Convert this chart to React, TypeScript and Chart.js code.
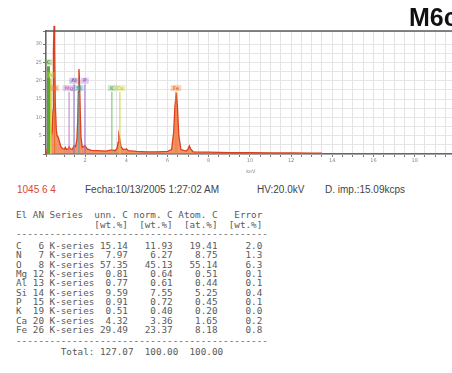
import React, { useEffect, useRef } from 'react';
import { Chart, registerables } from 'chart.js';

Chart.register(...registerables);

// Spectrum (energy in keV, intensity in cps/eV)
const spectrumKeV = [
  0.10, 0.15, 0.20, 0.24, 0.28, 0.32, 0.36, 0.40, 0.44, 0.46, 0.49, 0.52, 0.55, 0.60, 0.64, 0.70,
  0.76, 0.82, 0.90, 1.00, 1.04, 1.10, 1.18, 1.22, 1.28, 1.38, 1.46, 1.54, 1.60, 1.64, 1.67, 1.70,
  1.73, 1.76, 1.80, 1.86, 1.99, 2.10, 2.30, 2.60, 3.00, 3.30, 3.45, 3.55, 3.60, 3.64, 3.68, 3.74,
  3.85, 4.01, 4.10, 4.50, 5.00, 5.50, 6.00, 6.20, 6.30, 6.36, 6.43, 6.48, 6.55, 6.65, 6.90, 7.00,
  7.06, 7.12, 7.25, 8.00, 9.00, 10.00, 11.00, 12.00, 13.00, 13.50,
];
const spectrumCounts = [
  0.0, 0.6, 3.0, 9.0, 14.0, 8.0, 5.0, 6.0, 12.0, 28.0, 35.0, 30.0, 14.0, 6.5, 5.0, 4.5,
  3.2, 2.0, 1.5, 1.3, 1.8, 1.2, 1.4, 2.0, 1.4, 1.3, 2.2, 2.0, 4.0, 9.0, 17.0, 23.2,
  20.0, 12.0, 4.5, 1.8, 2.3, 1.4, 1.0, 0.9, 0.8, 1.1, 0.9, 1.5, 3.2, 5.2, 4.2, 2.0,
  1.2, 1.4, 0.9, 0.7, 0.6, 0.6, 0.7, 1.2, 6.0, 13.0, 16.7, 13.0, 5.0, 1.2, 0.8, 1.4,
  2.2, 1.4, 0.6, 0.5, 0.4, 0.35, 0.3, 0.3, 0.25, 0.25,
];

// Element identification markers
const markerSymbols = ['C', 'N', 'O', 'Mg', 'Al', 'Si', 'P', 'K', 'Ca', 'Fe'];
const markerKeV = [0.22, 0.33, 0.52, 1.22, 1.46, 1.70, 1.99, 3.30, 3.69, 6.41];
const markerLevel = [25.0, 21.6, 18.0, 18.0, 20.0, 18.0, 20.0, 18.0, 18.0, 18.0];
const markerColors = ['#58a830', '#c4d448', '#e86a30', '#c07cc0', '#8c6cc4', '#40a8b8', '#a46cd0', '#6cbc6c', '#c8d048', '#f07c3c'];
const markerWidths = [3, 2, 1, 1, 1, 1, 1, 1, 1, 1];

// Info line
const sampleId = '1045 6 4';
const infoTexts = ['Fecha:10/13/2005 1:27:02 AM', 'HV:20.0kV', 'D. imp.:15.09kcps'];

// Quantification table
const elements = ['C', 'N', 'O', 'Mg', 'Al', 'Si', 'P', 'K', 'Ca', 'Fe'];
const atomicNumbers = [6, 7, 8, 12, 13, 14, 15, 19, 20, 26];
const seriesNames = ['K-series', 'K-series', 'K-series', 'K-series', 'K-series', 'K-series', 'K-series', 'K-series', 'K-series', 'K-series'];
const unnC = ['15.14', '7.97', '57.35', '0.81', '0.77', '9.59', '0.91', '0.51', '4.32', '29.49'];
const normC = ['11.93', '6.27', '45.13', '0.64', '0.61', '7.55', '0.72', '0.40', '3.36', '23.37'];
const atomC = ['19.41', '8.75', '55.14', '0.51', '0.44', '5.25', '0.45', '0.20', '1.65', '8.18'];
const errorC = ['2.0', '1.3', '6.3', '0.1', '0.1', '0.4', '0.1', '0.0', '0.2', '0.8'];
const totals = ['127.07', '100.00', '100.00'];

const headerLine = 'El AN Series  unn. C norm. C Atom. C   Error';
const unitsLine = '              [wt.%]  [wt.%]  [at.%]  [wt.%]';
const dashLine = '-'.repeat(45);

function rowLine(i: number) {
  return (
    elements[i].padEnd(2) + ' ' + String(atomicNumbers[i]).padStart(2) + ' ' + seriesNames[i] + ' ' +
    unnC[i].padStart(5) + normC[i].padStart(8) + atomC[i].padStart(8) + errorC[i].padStart(8)
  );
}
const totalLine = '        Total: ' + totals[0].padStart(6) + totals[1].padStart(8) + totals[2].padStart(8);

const overlayPlugin = {
  id: 'overlay',
  afterDatasetsDraw(chart: any) {
    const { ctx, chartArea, scales } = chart;
    ctx.save();
    ctx.strokeStyle = '#5a5a5a';
    ctx.lineWidth = 1.5;
    ctx.beginPath();
    ctx.moveTo(chartArea.left, chartArea.top);
    ctx.lineTo(chartArea.right, chartArea.top);
    ctx.stroke();
    ctx.font = 'bold 5px "DejaVu Sans"';
    ctx.textAlign = 'center';
    ctx.textBaseline = 'middle';
    markerSymbols.forEach((s, i) => {
      const x = scales.x.getPixelForValue(markerKeV[i]);
      const y = scales.y.getPixelForValue(markerLevel[i]);
      const w = ctx.measureText(s).width + 4;
      ctx.globalAlpha = 0.35;
      ctx.fillStyle = markerColors[i];
      ctx.fillRect(x - w / 2, y - 3, w, 6);
      ctx.globalAlpha = 1;
      ctx.fillText(s, x, y + 0.3);
    });
    ctx.restore();
  },
};

export default function App() {
  const ref = useRef<HTMLCanvasElement | null>(null);

  useEffect(() => {
    const canvas = ref.current;
    if (!canvas) return;
    const markerSets = markerSymbols.map((s, i) => ({
      label: s,
      data: [
        { x: markerKeV[i], y: 0 },
        { x: markerKeV[i], y: markerLevel[i] - 1 },
      ],
      showLine: true,
      borderColor: markerColors[i],
      borderWidth: markerWidths[i],
      pointRadius: 0,
      fill: false,
    }));
    const chart = new Chart(canvas, {
      type: 'scatter',
      data: {
        datasets: [
          ...markerSets,
          {
            label: 'spectrum',
            data: spectrumKeV.map((x, i) => ({ x, y: spectrumCounts[i] })),
            showLine: true,
            borderColor: '#dc3f1a',
            backgroundColor: 'rgba(238,112,52,0.75)',
            borderWidth: 1.3,
            pointRadius: 0,
            fill: 'origin',
            clip: false,
          } as any,
        ],
      },
      options: {
        responsive: false,
        animation: false,
        devicePixelRatio: 1,
        layout: { padding: { top: 31, left: 0, right: 4, bottom: 0 } },
        plugins: { legend: { display: false }, tooltip: { enabled: false } },
        scales: {
          x: {
            type: 'linear',
            min: 0.1,
            max: 20,
            afterFit: (s: any) => { s.height = 21; },
            grid: { color: '#e3e3e3', tickColor: '#777', tickLength: 3, lineWidth: 1 },
            border: { color: '#666', width: 1.5 },
            ticks: {
              stepSize: 0.5,
              autoSkip: false,
              maxRotation: 0,
              padding: 1,
              color: '#888',
              font: { size: 5, family: 'DejaVu Sans' },
              callback: (v: any) => {
                const n = Number(v);
                const r = Math.round(n);
                return Math.abs(n - r) < 1e-6 && r > 0 && r % 2 === 0 ? String(r) : '';
              },
            },
            title: { display: true, text: 'keV', color: '#888', font: { size: 5, family: 'DejaVu Sans' }, padding: 0 },
          },
          y: {
            min: 0,
            max: 33.6,
            afterFit: (s: any) => { s.width = 46; },
            grid: { color: '#e6e6e6', tickColor: '#777', tickLength: 3, lineWidth: 1 },
            border: { color: '#666', width: 1.5 },
            ticks: {
              stepSize: 2.5,
              autoSkip: false,
              padding: 1,
              color: '#888',
              font: { size: 5, family: 'DejaVu Sans' },
              callback: (v: any) => {
                const n = Number(v);
                return n > 0 && Math.abs(n / 5 - Math.round(n / 5)) < 1e-6 ? String(n) : '';
              },
            },
          },
        },
      },
      plugins: [overlayPlugin],
    });
    return () => chart.destroy();
  }, []);

  const tableLines = [headerLine, unitsLine, dashLine, ...elements.map((_, i) => rowLine(i)), dashLine, totalLine];
  const lineCenters = [215, 225, 234, ...elements.map((_, i) => 246 + i * 9.35), 341, 352];

  return (
    <div style={{ position: 'absolute', left: 0, top: 0, width: 452, height: 373, overflow: 'hidden', background: '#fff' }}>
      <canvas ref={ref} width={460} height={175} style={{ position: 'absolute', left: 0, top: 0, width: 460, height: 175 }} />
      <div style={{ position: 'absolute', left: 409, top: 3, font: 'bold 25px "Liberation Sans", Arial, sans-serif', color: '#111', whiteSpace: 'nowrap', lineHeight: '28px' }}>M6c</div>
      <div style={{ position: 'absolute', left: 17, top: 183, font: '10px "Liberation Sans", Arial, sans-serif', color: '#d8473a', whiteSpace: 'nowrap', lineHeight: '14px' }}>{sampleId}</div>
      {infoTexts.map((t, i) => (
        <div key={i} style={{ position: 'absolute', left: [85, 257, 325][i], top: 183, font: '10px "Liberation Sans", Arial, sans-serif', color: '#444', whiteSpace: 'nowrap', lineHeight: '14px' }}>{t}</div>
      ))}
      {tableLines.map((t, i) => (
        <div key={'t' + i} style={{ position: 'absolute', left: 16, top: lineCenters[i] - 5, font: '9.3px "DejaVu Sans Mono", monospace', color: '#5a5a5a', whiteSpace: 'pre', lineHeight: '10px' }}>{t}</div>
      ))}
    </div>
  );
}
